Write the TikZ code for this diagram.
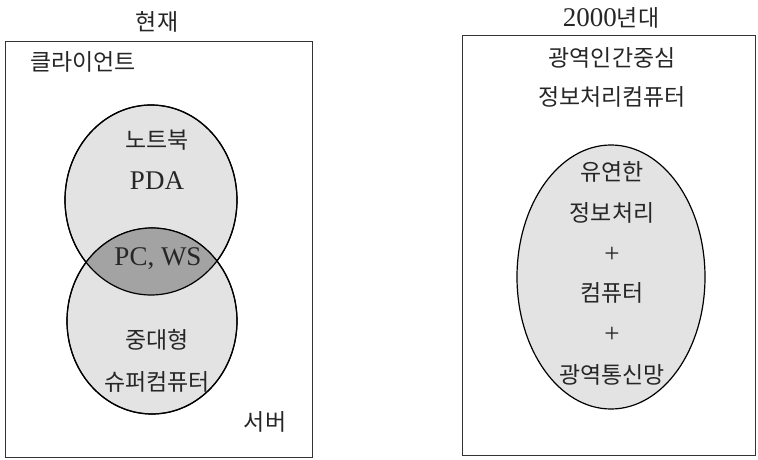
\documentclass[tikz,border=0pt]{standalone}
\usepackage{fontspec}
\setmainfont{Liberation Serif}
\newfontfamily\kr[Scale=0.85]{Noto Sans CJK KR}
\usetikzlibrary{shapes.geometric}
\tikzset{
  lbl/.style={inner sep=0pt, font=\fontsize{27}{31}\selectfont, text=black!85},
  frame/.style={draw=black!80, line width=0.9pt},
  blob/.style={draw=black, line width=1.2pt, fill=black!11, ellipse, inner sep=0pt},
}
\begin{document}
\begin{tikzpicture}[x=1pt,y=-1pt]
\useasboundingbox (0,0) rectangle (758,460);
% frames
\draw[frame] (5,41) rectangle (312,457);
\draw[frame] (462,35) rectangle (755,455);
% titles
\node[lbl] (t1) at (157,22) {\kr 현재};
\node[lbl] (t2) at (611,18) {2000\kr 년대};
% left venn
\node[blob, minimum width=172pt, minimum height=190pt] (up) at (151,200) {};
\node[blob, minimum width=170pt, minimum height=186pt] (lo) at (152,321) {};
\begin{scope}
  \clip (151,200) ellipse [x radius=86, y radius=95];
  \fill[black!36] (152,321) ellipse [x radius=85, y radius=93];
\end{scope}
\draw[line width=1.2pt] (151,200) ellipse [x radius=86, y radius=95];
\draw[line width=1.2pt] (152,321) ellipse [x radius=85, y radius=93];
\node[lbl] (cl) at (83,62) {\kr 클라이언트};
\node[lbl] (nb) at (157,140) {\kr 노트북};
\node[lbl] (pda) at (157,181) {PDA};
\node[lbl] (pc) at (158,259) {PC, WS};
\node[lbl] (md) at (157,340) {\kr 중대형};
\node[lbl] (sc) at (157,382) {\kr 슈퍼컴퓨터};
\node[lbl] (sv) at (265,422) {\kr 서버};
% right
\node[lbl] (r1) at (612,58) {\kr 광역인간중심};
\node[lbl] (r2) at (612,97) {\kr 정보처리컴퓨터};
\node[blob, minimum width=188pt, minimum height=264pt] (big) at (611,277) {};
\node[lbl] (e1) at (612,172) {\kr 유연한};
\node[lbl] (e2) at (612,213) {\kr 정보처리};
\node[lbl] (e3) at (612,255) {+};
\node[lbl] (e4) at (612,293) {\kr 컴퓨터};
\node[lbl] (e5) at (612,335) {+};
\node[lbl] (e6) at (612,375) {\kr 광역통신망};
\end{tikzpicture}
\end{document}
